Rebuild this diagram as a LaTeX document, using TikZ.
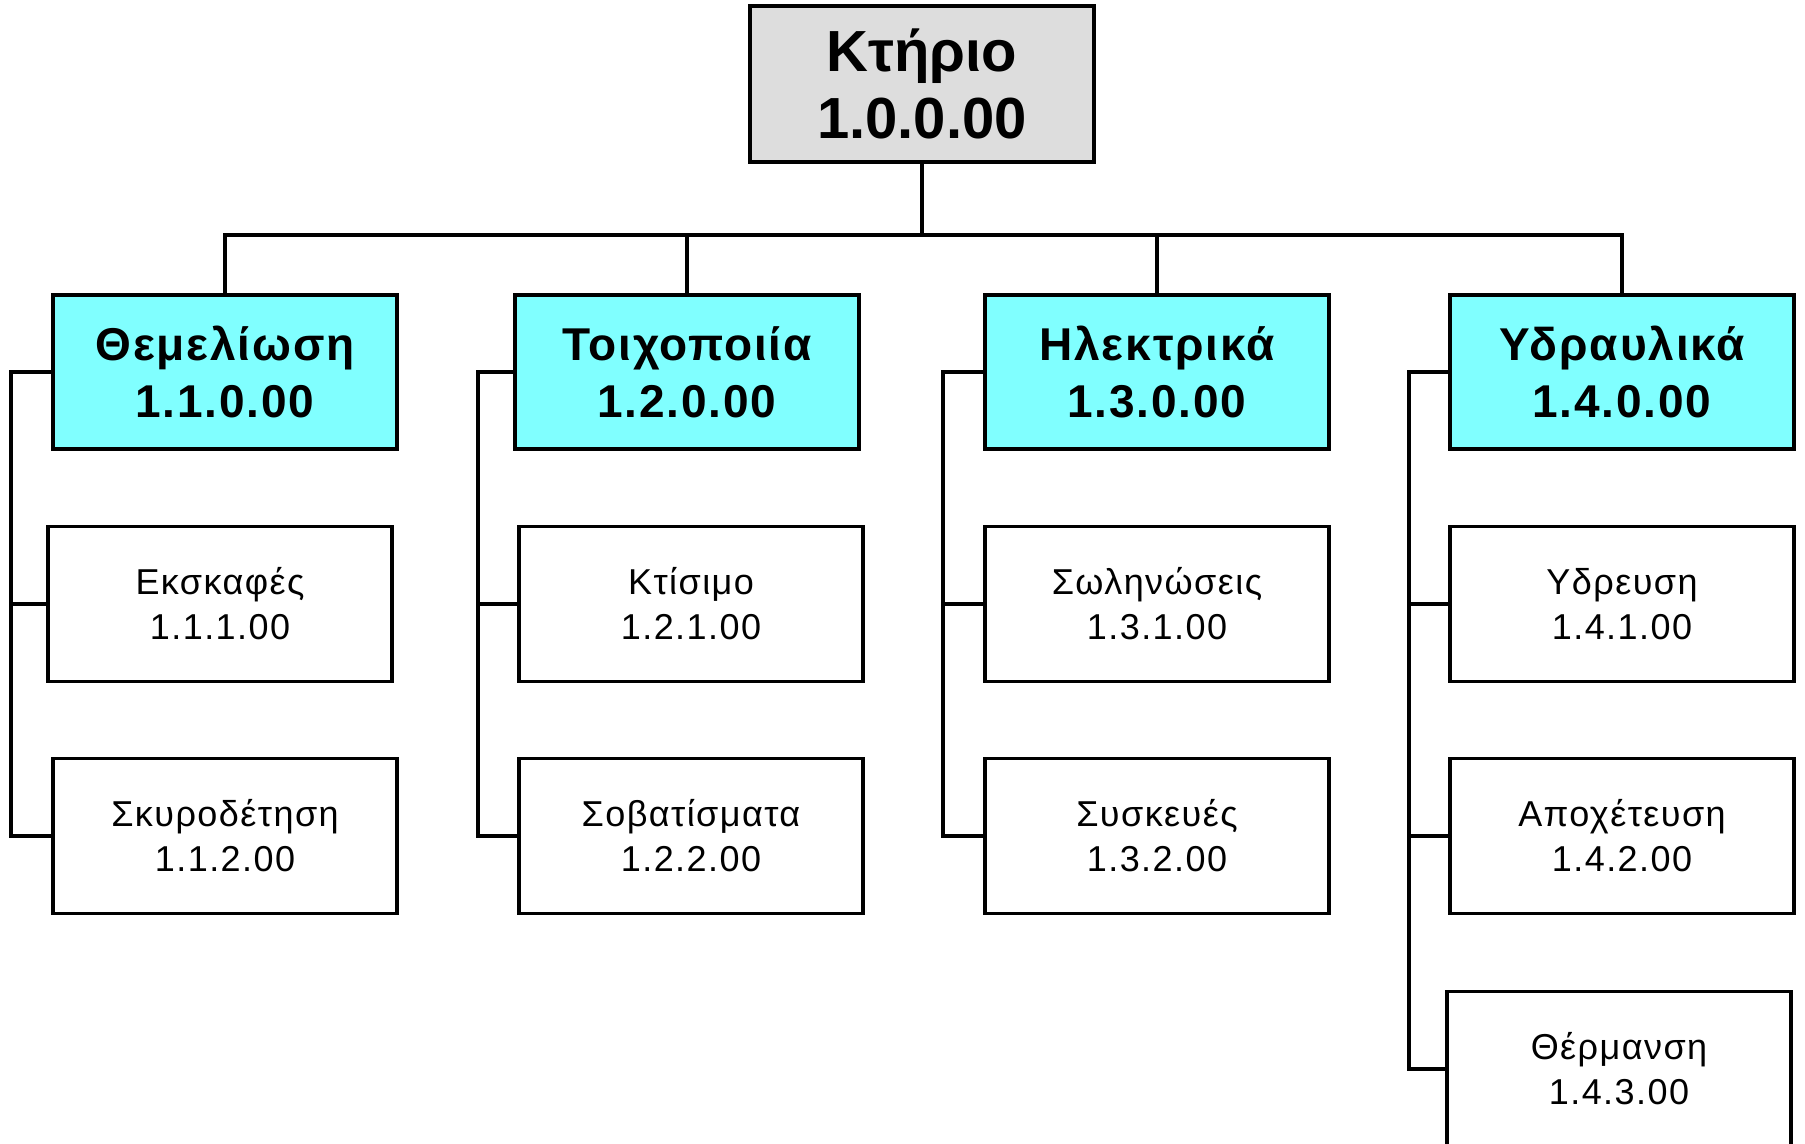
\documentclass[tikz,border=0pt]{standalone}
\usepackage{fontspec}
\setmainfont{Liberation Sans}
\newfontfamily\headfont{Liberation Sans}[LetterSpace=4]
\newfontfamily\itemfont{Liberation Sans}[LetterSpace=4]
\usetikzlibrary{positioning}
\definecolor{rootgray}{HTML}{DDDDDD}
\definecolor{groupcyan}{HTML}{80FFFF}

\begin{document}
\begin{tikzpicture}[
        x=0.5pt, y=-0.5pt,
        box/.style={draw=black, line width=1.7pt, align=center, inner sep=0pt, minimum width=172pt, minimum height=77pt},
        rootbox/.style={box, fill=rootgray, minimum height=78pt, font=\fontsize{29}{33.5}\selectfont\bfseries},
        groupbox/.style={box, fill=groupcyan, font=\headfont\fontsize{23}{28.5}\selectfont\bfseries},
        itembox/.style={box, fill=white, minimum height=77.5pt, font=\itemfont\fontsize{18}{22.5}\selectfont},
        link/.style={draw=black, line width=1.6pt}
    ]
        \useasboundingbox (0,0) rectangle (1805,1144);
        \clip (0,0) rectangle (1805,1144);

        % --- Top ---
        \node[rootbox] (root) at (922,84) {Κτήριο\\1.0.0.00};

        % --- Main groups ---
        \node[groupbox] (found) at (225,372) {Θεμελίωση\\1.1.0.00};
        \node[groupbox] (walls) at (687,372) {Τοιχοποιία\\1.2.0.00};
        \node[groupbox] (elec) at (1157,372) {Ηλεκτρικά\\1.3.0.00};
        \node[groupbox] (plumb) at (1622,372) {Υδραυλικά\\1.4.0.00};

        % --- Work items ---
        \node[itembox] (dig) at (220,604) {Εκσκαφές\\1.1.1.00};
        \node[itembox] (concrete) at (225,836) {Σκυροδέτηση\\1.1.2.00};

        \node[itembox] (build) at (691,604) {Κτίσιμο\\1.2.1.00};
        \node[itembox] (plaster) at (691,836) {Σοβατίσματα\\1.2.2.00};

        \node[itembox] (pipes) at (1157,604) {Σωληνώσεις\\1.3.1.00};
        \node[itembox] (devices) at (1157,836) {Συσκευές\\1.3.2.00};

        \node[itembox] (supply) at (1622,604) {Υδρευση\\1.4.1.00};
        \node[itembox] (drain) at (1622,836) {Αποχέτευση\\1.4.2.00};
        \node[itembox] (heat) at (1619,1069) {Θέρμανση\\1.4.3.00};

        % --- Tree lines ---
        \coordinate (bus) at (922,235);
        \draw[link] (root.south) -- (bus);
        \draw[link] (bus) -| (found.north);
        \draw[link] (bus) -| (walls.north);
        \draw[link] (bus) -| (elec.north);
        \draw[link] (bus) -| (plumb.north);

        \coordinate (spine1) at (11,372);
        \coordinate (spine2) at (478,372);
        \coordinate (spine3) at (943,372);
        \coordinate (spine4) at (1409,372);

        \draw[link] (found.west) -- (spine1) |- (concrete.west);
        \draw[link] (spine1) |- (dig.west);

        \draw[link] (walls.west) -- (spine2) |- (plaster.west);
        \draw[link] (spine2) |- (build.west);

        \draw[link] (elec.west) -- (spine3) |- (devices.west);
        \draw[link] (spine3) |- (pipes.west);

        \draw[link] (plumb.west) -- (spine4) |- (heat.west);
        \draw[link] (spine4) |- (supply.west);
        \draw[link] (spine4) |- (drain.west);

    \end{tikzpicture}
\end{document}
